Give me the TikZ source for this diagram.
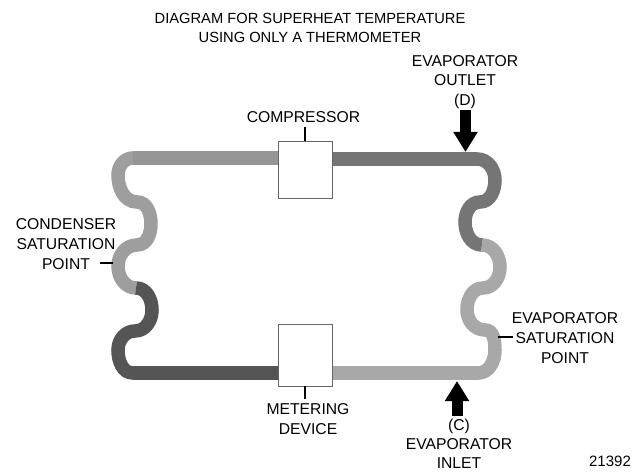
\documentclass[tikz,border=0pt]{standalone}
\usepackage{fontspec}
\setmainfont{Liberation Sans}
\usetikzlibrary{positioning, arrows.meta}
\definecolor{pipeMid}{RGB}{150,150,150}
\definecolor{pipeSoft}{RGB}{158,158,158}
\definecolor{pipeDark}{RGB}{85,85,85}
\definecolor{pipeSteel}{RGB}{117,117,117}
\definecolor{pipeLight}{RGB}{168,168,168}

\begin{document}
\begin{tikzpicture}[x=1pt, y=1pt, node distance=17pt, thick,
					pipe/.style={line width=13.5pt, line cap=butt},
					run/.style={line width=14pt, line cap=butt},
					valve/.style={draw=black!60, fill=white, minimum width=54pt, inner sep=0pt, line width=0.9pt},
					label/.style={align=center, font=\fontsize{15.7}{19.7}\selectfont, inner sep=0pt},
					tick/.style={line width=1.3pt, draw=black},
					bigarrow/.style={line width=11pt, -{Triangle[length=20pt, width=23pt]}}]
					\useasboundingbox (0,0) rectangle (636,471);
					% condenser side
					\draw[pipe, pipeSoft] (135,313) -- (133,313) to[out=180, in=90] (118,296) to[out=270, in=180] (137,269) to[out=0, in=90] (151,247) to[out=270, in=0] (137,226) to[out=180, in=90] (118,205) to[out=270, in=180] (136,183);
					\draw[run, pipeMid] (278,313) -- (133,313);
					\draw[pipe, pipeDark] (136,183) to[out=0, in=90] (152,161) to[out=270, in=0] (135,140) to[out=180, in=90] (118,121) to[out=270, in=180] (133,98) -- (136,98);
					\draw[run, pipeDark] (278,98) -- (133,98);
					% evaporator side
					\draw[pipe, pipeSteel] (475,312) -- (477,312) to[out=0, in=90] (495,291) to[out=270, in=0] (480,269) to[out=180, in=90] (465,249) to[out=270, in=180] (482,226);
					\draw[run, pipeSteel] (332,312) -- (477,312);
					\draw[pipe, pipeLight] (482,226) to[out=0, in=90] (500,204) to[out=270, in=0] (483,183) to[out=180, in=90] (467,161) to[out=270, in=180] (485,141) to[out=0, in=90] (495,121) to[out=270, in=0] (478,98) -- (475,98);
					\draw[run, pipeLight] (332,98) -- (478,98);
					% boxes and labels
					\node[valve, minimum height=57pt] (compressor) at (305,301.5) {};
					\node[valve, minimum height=62pt] (metering) at (305,116) {};
					\node[label, above=of compressor, xshift=-1.5pt] (compressorLabel) {COMPRESSOR};
					\node[label, below=of metering, xshift=3pt] (meteringLabel) {METERING\\DEVICE};
					\node[label, font=\fontsize{14.7}{19.5}\selectfont] (title) at (310,443) {DIAGRAM FOR SUPERHEAT TEMPERATURE\\USING ONLY A THERMOMETER};
					\node[label] (outletLabel) at (465,389) {EVAPORATOR\\OUTLET\\(D)};
					\node[label, font=\fontsize{15.7}{18.7}\selectfont] (inletLabel) at (459,27) {(C)\\EVAPORATOR\\INLET};
					\node[label] (condenserLabel) at (66,227) {CONDENSER\\SATURATION\\POINT};
					\node[label] (evaporatorLabel) at (565,133) {EVAPORATOR\\SATURATION\\POINT};
					\node[label, font=\fontsize{15}{19}\selectfont] (partNumber) at (610,10) {21392};
					\coordinate (outletTail) at (465.5,361);
					\coordinate (outletTip) at (465.5,319);
					\coordinate (inletTail) at (457,55);
					\coordinate (inletTip) at (457,90);
					\coordinate (condenserPoint) at (113,208);
					\coordinate (evaporatorPoint) at (498,134);
					\coordinate[above=14pt of compressor] (compressorTick);
					\coordinate[below=13pt of metering] (meteringTick);
					\draw[tick] (compressorTick) -- (compressor);
					\draw[tick] (metering) -- (meteringTick);
					\draw[tick] (condenserPoint) -- ++(-13,0);
					\draw[tick] (evaporatorPoint) -- ++(15,0);
					\draw[bigarrow] (outletTail) -- (outletTip);
					\draw[bigarrow] (inletTail) -- (inletTip);
				\end{tikzpicture}
\end{document}
